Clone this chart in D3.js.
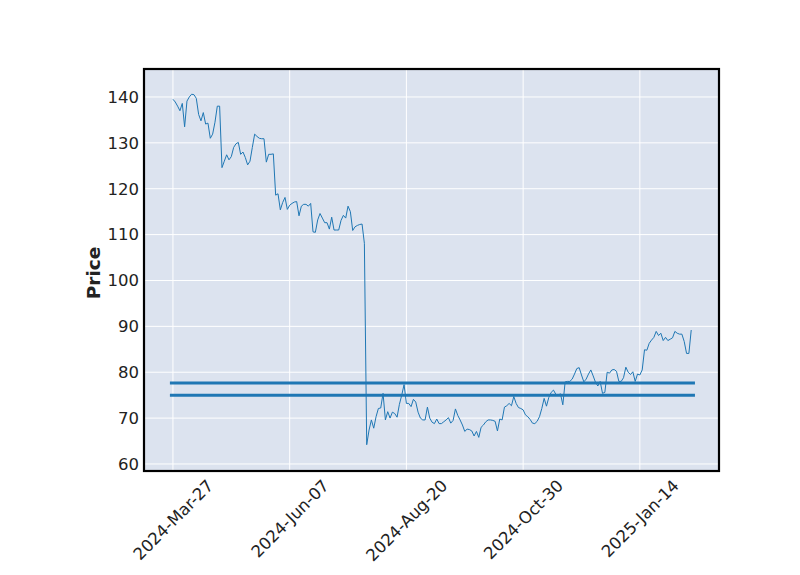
<!DOCTYPE html>
<html>
<head>
<meta charset="utf-8">
<script src="https://cdn.jsdelivr.net/npm/d3@7"></script>
<style>
  html, body { margin: 0; padding: 0; background: #ffffff; }
  svg { display: block; }
  text { font-family: "DejaVu Sans", sans-serif; }
</style>
</head>
<body>
<svg id="chart" width="800" height="575"></svg>
<script>
// ---- Data (closing prices, one per trading day, index-based x like mplfinance) ----
const prices = [
  139.5,138.9,138.0,137.0,138.6,133.5,139.1,140.0,140.6,140.5,
  139.7,136.2,134.8,136.6,134.1,134.3,131.0,131.9,134.5,138.0,
  138.0,124.6,126.0,127.4,126.3,127.0,129.0,129.8,130.1,127.5,
  128.0,126.8,125.2,126.0,129.0,131.9,131.4,131.0,130.9,130.9,
  125.8,127.5,127.5,127.6,118.6,118.9,115.4,117.0,118.1,115.5,
  116.4,116.8,117.1,117.2,114.1,116.2,116.6,116.6,116.2,116.8,
  110.6,110.5,113.2,114.6,113.6,112.6,112.6,111.2,113.8,111.0,
  111.0,111.0,113.1,114.2,113.6,116.2,115.0,110.9,111.7,112.0,
  112.2,112.3,108.1,64.2,67.4,69.6,67.8,70.3,72.1,72.2,
  75.4,69.6,71.4,70.0,71.3,71.0,70.2,73.0,75.0,77.3,
  73.2,73.2,72.5,74.1,73.5,71.3,70.0,69.6,69.6,72.4,
  70.0,69.1,68.8,69.8,68.8,68.8,69.2,69.6,70.1,68.9,
  69.5,72.0,70.6,69.6,68.5,67.1,67.6,67.5,67.2,66.1,
  67.1,65.8,68.0,68.5,69.2,69.6,69.6,69.5,69.3,67.2,
  69.8,69.6,72.4,72.7,73.2,72.7,74.7,73.2,72.3,72.1,
  71.8,70.7,70.3,69.7,68.9,68.8,69.3,70.3,72.1,74.3,
  72.6,74.5,75.6,76.1,75.2,75.0,75.3,72.9,77.9,78.0,
  78.0,78.5,79.6,80.8,81.0,79.4,77.9,78.5,79.6,80.5,
  79.2,77.8,77.0,78.0,75.4,75.6,80.0,79.8,80.5,80.6,
  80.2,78.0,78.0,78.8,81.1,80.0,79.5,80.1,78.0,79.6,
  79.4,80.5,84.9,84.8,86.3,87.0,87.6,88.9,88.0,88.5,
  86.9,87.6,86.9,87.2,87.5,88.9,88.5,88.3,88.3,86.7,
  84.1,84.1,89.2
];
const tickIndex  = [0, 50, 100, 150, 200];
const tickLabels = ["2024-Mar-27", "2024-Jun-07", "2024-Aug-20", "2024-Oct-30", "2025-Jan-14"];
const yTicks     = [60, 70, 80, 90, 100, 110, 120, 130, 140];
const hLevels    = [77.65, 75.0];
const hSpan      = [-1.3, 223.6];   // index range covered by the horizontal levels
const xLimits    = [-12.4, 233.9];
const yLimits    = [58.47, 146.1];

// ---- Layout ----
const W = 800, H = 575;
const M = { left: 144, right: 81, top: 69, bottom: 104 };
const iw = W - M.left - M.right, ih = H - M.top - M.bottom;
const FS = 16.5;

const svg = d3.select("#chart");
const g = svg.append("g").attr("transform", `translate(${M.left},${M.top})`);

const x = d3.scaleLinear().domain(xLimits).range([0, iw]);
const y = d3.scaleLinear().domain(yLimits).range([ih, 0]);

// background
g.append("rect").attr("width", iw).attr("height", ih).attr("fill", "#DCE3EF");

// grid
g.append("g").selectAll("line").data(yTicks).join("line")
  .attr("x1", 0).attr("x2", iw)
  .attr("y1", d => y(d)).attr("y2", d => y(d))
  .attr("stroke", "#ffffff").attr("stroke-width", 1);
g.append("g").selectAll("line").data(tickIndex).join("line")
  .attr("y1", 0).attr("y2", ih)
  .attr("x1", d => x(d)).attr("x2", d => x(d))
  .attr("stroke", "#ffffff").attr("stroke-width", 1);

// horizontal levels
g.append("g").selectAll("line").data(hLevels).join("line")
  .attr("x1", x(hSpan[0])).attr("x2", x(hSpan[1]))
  .attr("y1", d => y(d)).attr("y2", d => y(d))
  .attr("stroke", "#1f77b4").attr("stroke-width", 3);

// price line
const line = d3.line().x((d, i) => x(i)).y(d => y(d));
g.append("path").datum(prices)
  .attr("d", line)
  .attr("fill", "none")
  .attr("stroke", "#1f77b4")
  .attr("stroke-width", 1)
  .attr("stroke-linejoin", "round");

// frame
g.append("rect").attr("width", iw).attr("height", ih)
  .attr("fill", "none").attr("stroke", "#000000").attr("stroke-width", 2.2);

// y axis labels
const yAxis = d3.axisLeft(y).tickValues(yTicks).tickSize(0).tickPadding(5);
const ya = g.append("g").call(yAxis);
ya.select(".domain").remove();
ya.selectAll("text").attr("font-size", FS).attr("fill", "#222222")
  .attr("font-family", "DejaVu Sans, sans-serif");

// x axis labels (rotated 45°, bbox centred on tick)
const xAxis = d3.axisBottom(x).tickValues(tickIndex).tickSize(0)
  .tickFormat((d, i) => tickLabels[i]);
const xa = g.append("g").attr("transform", `translate(0,${ih})`).call(xAxis);
xa.select(".domain").remove();
xa.selectAll("text")
  .attr("font-size", FS).attr("fill", "#222222")
  .attr("font-family", "DejaVu Sans, sans-serif")
  .attr("text-anchor", "middle")
  .attr("dy", null)
  .attr("dominant-baseline", "central")
  .each(function() {
    const L = this.getComputedTextLength();
    const h = FS;
    const half = (L + h) * Math.SQRT1_2 / 2;
    const cy = 6 + half;
    d3.select(this).attr("y", 0).attr("x", 0)
      .attr("transform", `translate(0,${cy}) rotate(-45)`);
  });

// y label
svg.append("text")
  .attr("transform", `translate(99.5,${M.top + ih / 2 + 3}) rotate(-90)`)
  .attr("text-anchor", "middle")
  .attr("font-size", 18.5).attr("font-weight", "bold").attr("fill", "#222222")
  .text("Price");
</script>
</body>
</html>
